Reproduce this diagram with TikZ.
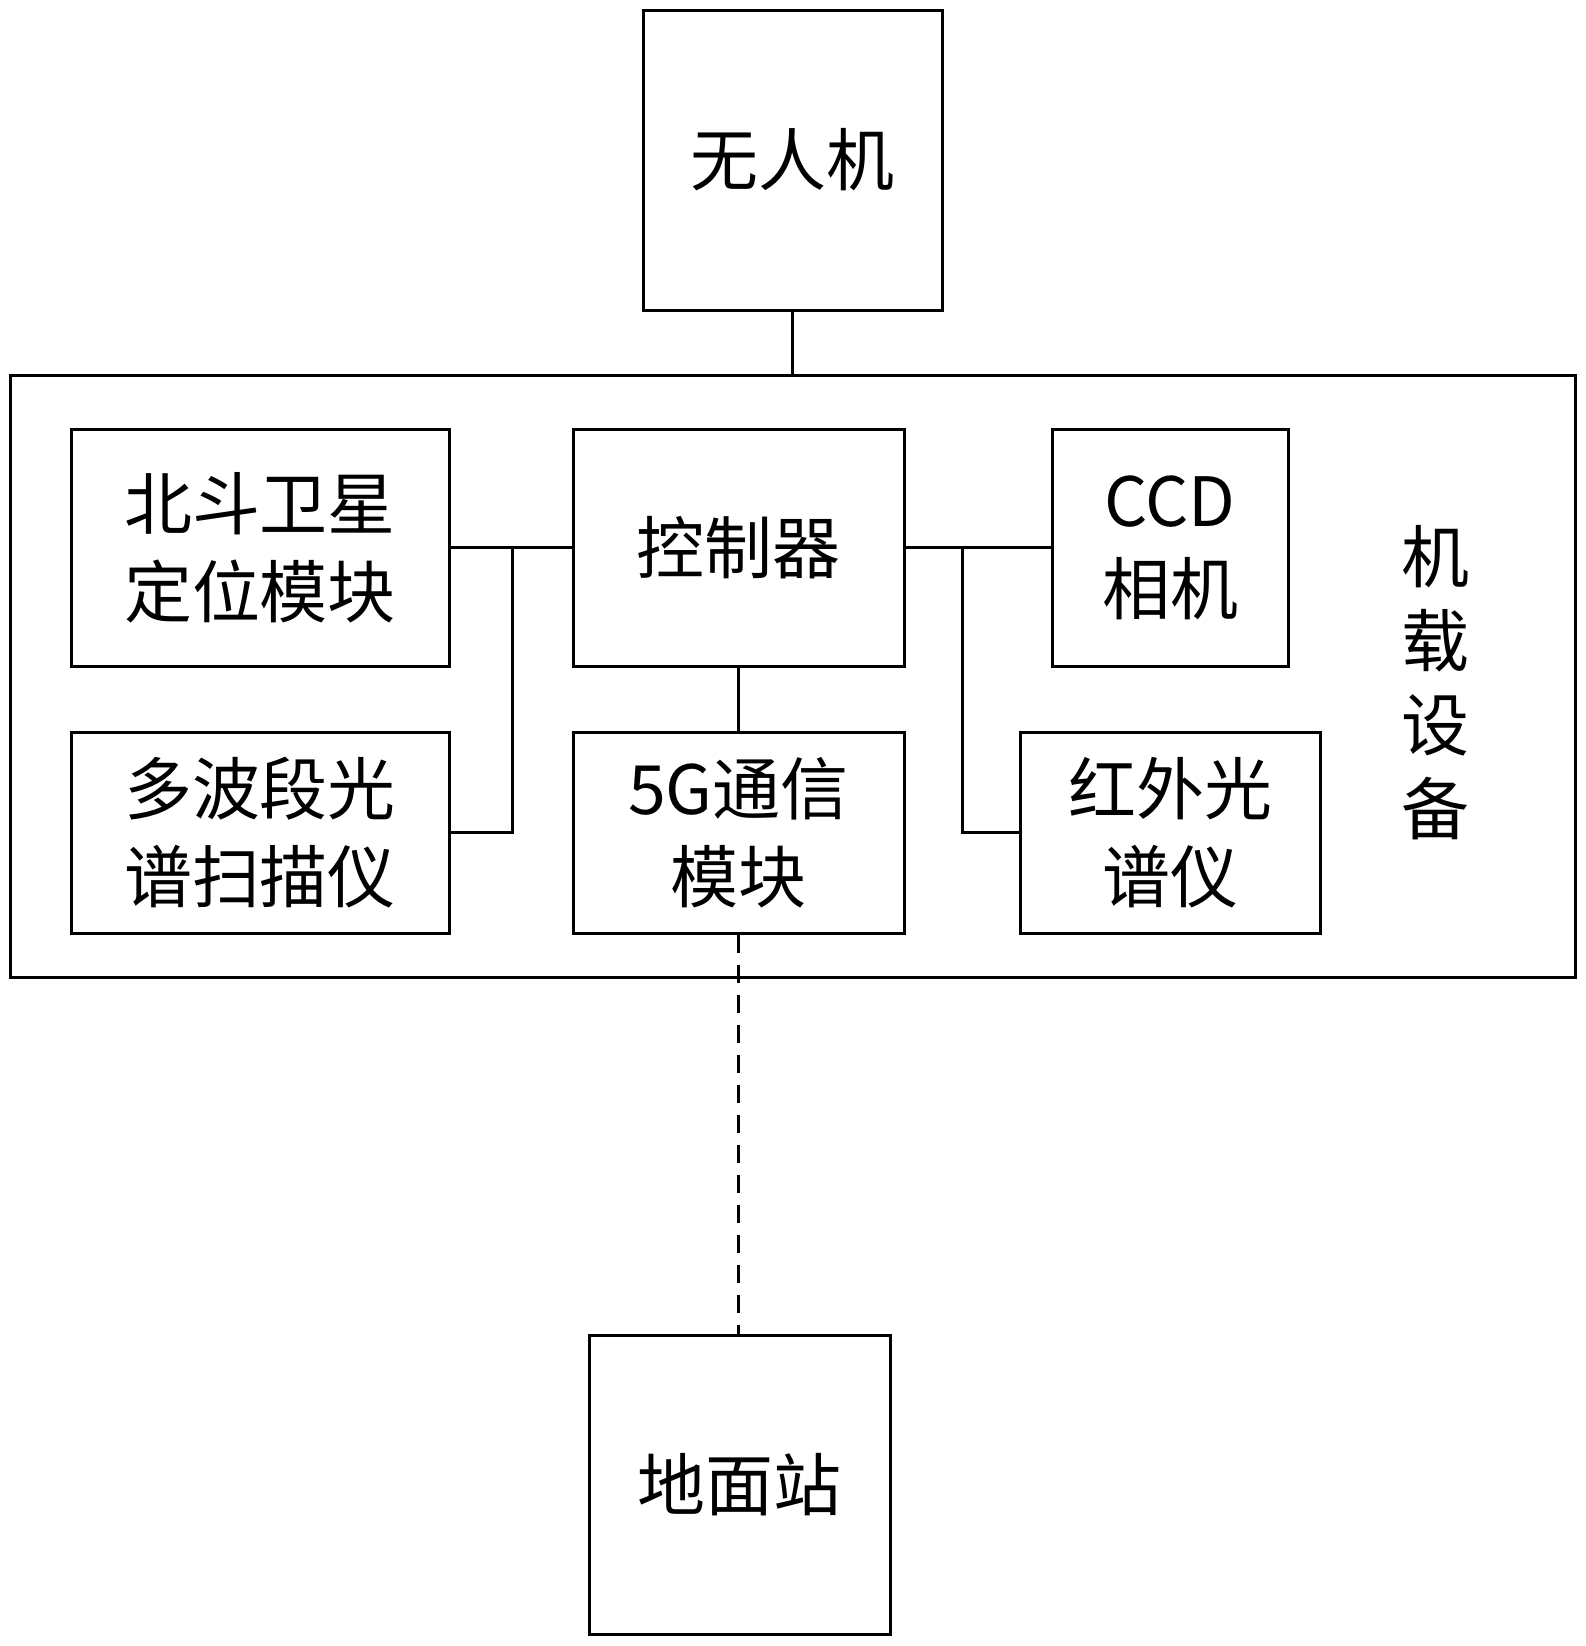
\documentclass[tikz,border=0pt]{standalone}
\usepackage{fontspec}
\setmainfont{Noto Sans CJK SC}
\usetikzlibrary{positioning}
\tikzset{
    blk/.style={draw, line width=1.5pt, align=center, font=\fontsize{34}{44}\selectfont},
    link/.style={line width=1.5pt}
}
\begin{document}
\begin{tikzpicture}[x=0.5pt, y=-0.5pt]
    \useasboundingbox (0,0) rectangle (1586,1646);
    % Outer frame
    \node [draw, line width=1.5pt, minimum width=782.5pt, minimum height=301pt] (frame) at (792.5,676) {};
    \node [font=\fontsize{34}{42}\selectfont, align=center] (lbl) at (1435,683) {机\\载\\设\\备};

    % Boxes
    \node [blk, minimum width=149.5pt, minimum height=150pt] (uav)    at (792.5,160)  {无人机};
    \node [blk, minimum width=189pt,   minimum height=118.5pt] (bd)   at (260,547.5)  {北斗卫星\\定位模块};
    \node [blk, minimum width=165.5pt, minimum height=118.5pt] (ctrl) at (738.5,547.5) {控制器};
    \node [blk, minimum width=118pt,   minimum height=118.5pt] (ccd)  at (1170,547.5) {CCD\\相机};
    \node [blk, minimum width=189pt,   minimum height=100.5pt] (msp)  at (260,832.5)  {多波段光\\谱扫描仪};
    \node [blk, minimum width=165.5pt, minimum height=100.5pt] (com)  at (738.5,832.5) {5G通信\\模块};
    \node [blk, minimum width=150pt,   minimum height=100.5pt] (ir)   at (1170,832.5) {红外光\\谱仪};
    \node [blk, minimum width=150.5pt, minimum height=149.5pt] (gnd)  at (739.5,1484.5) {地面站};

    % Paths
    \draw [link] (uav) -- (uav |- frame.north);
    \draw [link] (bd) -- (ctrl);
    \draw [link] (ctrl) -- (ccd);
    \draw [link] (ctrl) -- (com);
    \draw [link] (msp.east) -| (512,547.5);
    \draw [link] (ir.west) -| (962,547.5);
    \draw [link, dash pattern=on 9pt off 6pt] (com) -- (com |- gnd.north);
\end{tikzpicture}
\end{document}
